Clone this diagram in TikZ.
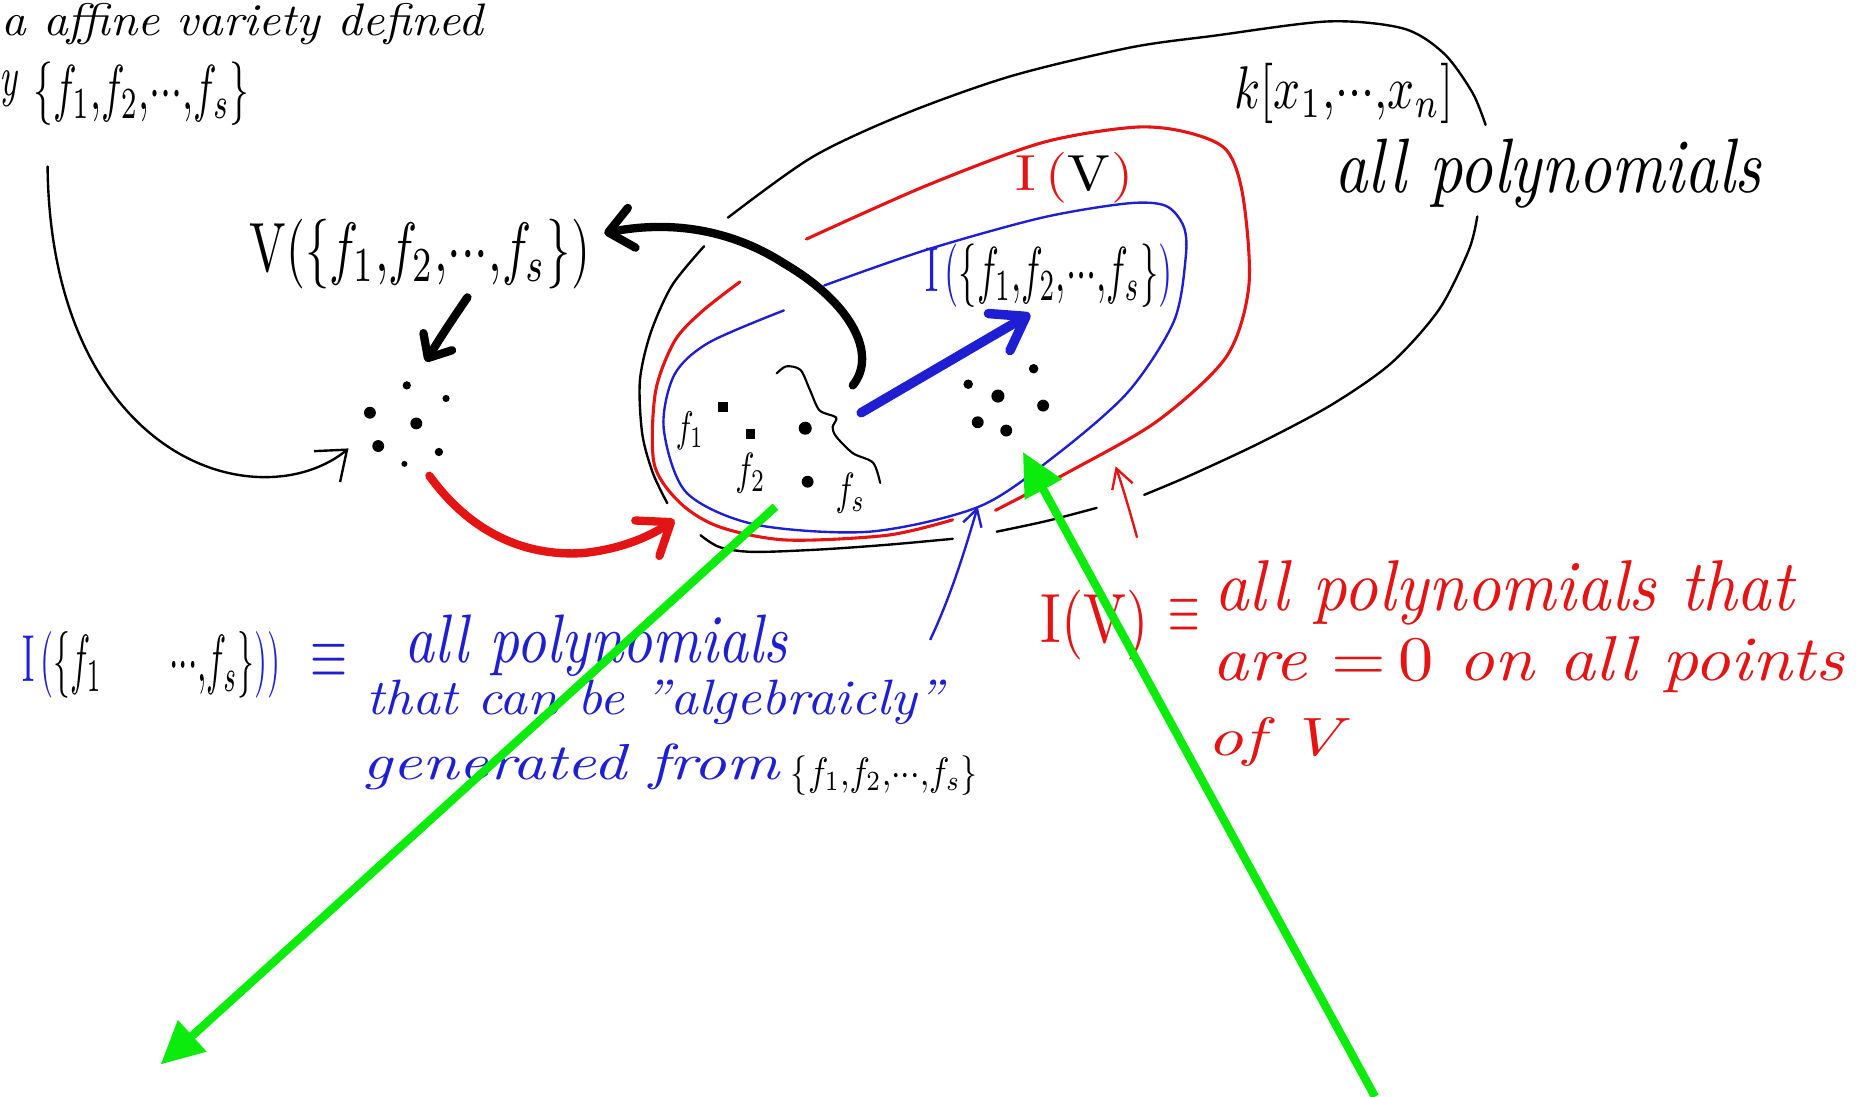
\documentclass[tikz,border=0pt]{standalone}
\usepackage{graphicx}
\usetikzlibrary{arrows.meta}
\definecolor{hred}{RGB}{228,20,20}
\definecolor{hblue}{RGB}{30,30,210}
\definecolor{hgreen}{RGB}{12,236,12}
\newcommand{\fitt}[3]{\resizebox{#1pt}{#2pt}{#3}}
\newcommand{\ddd}{{\cdot}{\cdot}{\cdot}}
\newcommand{\fset}{\{f_1,\!f_2,\!\ddd,\!f_s\}}
\begin{document}
\begin{tikzpicture}[x=1pt,y=-1pt,
 txt/.style={anchor=base west,inner sep=0pt,outer sep=0pt},
 ctxt/.style={inner sep=0pt,outer sep=0pt},
 thinblk/.style={line width=2pt,black,line cap=round,line join=round},
 redline/.style={line width=2.6pt,hred,line cap=round,line join=round},
 blueline/.style={line width=2pt,hblue,line cap=round,line join=round},
 fatblk/.style={line width=7pt,black,line cap=round},
 fatred/.style={line width=7pt,hred,line cap=round},
 fatblue/.style={line width=8pt,hblue,line cap=round},
 grn/.style={line width=7pt,hgreen}]
\useasboundingbox (0,0) rectangle (1568,922);
\fill[white] (0,0) rectangle (1568,922);

% ---------- outer black ellipse (k[x1..xn]) ----------
\draw[thinblk] plot[smooth] coordinates {(612,183) (683,132) (760,96) (850,64) (950,40) (1021,30) (1117,18) (1180,24) (1214,45) (1238,78) (1249,105)};
\draw[thinblk] plot[smooth] coordinates {(1242,182) (1235,210) (1210,260) (1170,305) (1120,340) (1060,372) (1000,400) (962,416)};
\draw[thinblk] plot[smooth] coordinates {(838,447) (880,438) (922,427)};
\draw[thinblk] plot[smooth] coordinates {(589,450) (605,460) (633,464) (689,462) (746,458) (801,453)};
\draw[thinblk] plot[smooth] coordinates {(592,207) (565,240) (547,280) (538,320) (540,365) (549,398) (561,423)};

% ---------- red curve I(V) ----------
\draw[redline] plot[smooth] coordinates {(678,201) (779,156) (876,120) (953,107) (997,111) (1031,126) (1045,165) (1050,240) (1031,300) (973,354) (900,396) (837,429)};
\draw[redline] plot[smooth] coordinates {(622,237) (590,262) (567,287) (551,330) (550,390) (572,423) (605,443) (661,454) (746,450) (801,437)};

% ---------- blue curve I({f}) ----------
\draw[blueline] plot[smooth] coordinates {(693,240) (779,210) (876,183) (948,171) (980,173) (995,190) (997,215) (987,270) (948,330) (886,384) (823,426) (731,447) (635,441) (577,414) (558,360) (567,315) (596,288) (659,261)};

% ---------- texts ----------
\node[txt] (t1) at (1,30) {\fitt{405}{27}{\itshape a affine variety defined}};
\node[anchor=base east,inner sep=0pt] (t2a) at (15,80) {\fitt{15}{21}{\itshape y}};
\node[txt] (t2) at (28,92) {\fitt{182}{40}{$\fset$}};
\node[txt] (vtext) at (210,228) {\fitt{286}{44}{$\mathrm{V}(\fset)$}};
\node[txt] (ktext) at (1038,91) {\fitt{184}{38}{$k[x_1,\!\ddd,\!x_n]$}};
\node[txt] (allpoly) at (1122,162) {\fitt{359}{45}{\itshape all polynomials}};
\node[txt] (ivtop) at (854,160) {\fitt{99}{32}{{\color{hred}$\mathrm{I}\,($}$\mathrm{V}${\color{hred}$)$}}};
\node[txt] (iftext) at (778,245) {\fitt{208}{40}{{\color{hblue}$\mathrm{I}\,($}$\fset${\color{hblue}$)$}}};

\node[ctxt] (lf1) at (580,362) {\scalebox{2.5}[3.6]{$f_1$}};
\node[ctxt] (lf2) at (631,398) {\scalebox{2.7}[3.8]{$f_2$}};
\node[ctxt] (lfs) at (715,415) {\scalebox{2.7}[3.8]{$f_s$}};

% blue explanation
\node[txt] (bform) at (19,573) {\fitt{217}{42}{{\color{hblue}$\mathrm{I}\,($}$\{f_1\qquad\ddd,\!f_s\}${\color{hblue}$))$}}};
\node[ctxt,text=hblue] (beq) at (277,556) {\scalebox{4.0}[6.0]{$\equiv$}};
\node[txt,text=hblue] (b1) at (340,557) {\fitt{322}{40}{\itshape all polynomials}};
\node[txt,text=hblue] (b2) at (308,601) {\fitt{485}{29}{\itshape that can be "algebraicly"}};
\node[txt,text=hblue] (b3) at (305,655) {\fitt{350}{30}{\itshape generated from}};
\node[txt] (b4) at (665,660) {\fitt{157}{25}{$\fset$}};

% red explanation
\node[txt,text=hred] (rform) at (875,540) {\fitt{91}{44}{$\mathrm{I}(\mathrm{V})$}};
\node[ctxt,text=hred] (req) at (996,518) {\scalebox{3.4}[6.0]{$\equiv$}};
\node[txt,text=hred] (r1) at (1021,513) {\fitt{487}{42}{\itshape all polynomials that}};
\node[txt,text=hred] (r2) at (1019,572) {\fitt{531}{37}{\itshape are {\upshape =\,0} on all points}};
\node[txt,text=hred] (r3) at (1015,635) {\fitt{113}{32}{\itshape of V}};

% ---------- dots ----------
\foreach \x/\y/\r in {342/324/3.5, 375/335/3, 311/347/5, 350/356/5, 318/375/5, 369/380/3.5, 340/390/2.5,
                      677/360/5.5, 679/405/5,
                      869/310/4, 814/323/4, 839/333/5.5, 877/341/5, 822/355/5, 846/362/5}
  \fill (\x,\y) circle (\r);
\fill (604,338) rectangle (612,346);
\fill (627,361) rectangle (635,369);

% brace-like wavy line
\draw[line width=1.8pt,line cap=round] plot[smooth] coordinates {(653,314) (661,308) (673,311) (681,328) (689,345) (703,351) (700,359) (703,367) (717,381) (734,389) (740,406)};

% ---------- connectors ----------
\coordinate (c1s) at (40,140);
\coordinate (c1e) at (293,377);
\draw[thinblk,-{Straight Barb[length=22pt,width=34pt]}] (c1s) .. controls (42,330) and (150,412) .. (240,400) .. controls (262,397) and (280,388) .. (c1e);

\coordinate (vds) at (393,250);
\coordinate (vde) at (358,304);
\draw[fatblk,-{Straight Barb[length=16pt,width=28pt,round]}] (vds) .. controls (382,266) and (370,284) .. (vde);

\coordinate (rs) at (361,400);
\coordinate (re) at (567,437);
\draw[fatred,-{Straight Barb[length=24pt,width=36pt,round]}] (rs) .. controls (395,447) and (440,468) .. (490,465) .. controls (520,462) and (545,452) .. (re);

\coordinate (hks) at (717,324);
\coordinate (hke) at (508,196);
\draw[fatblk,-{Straight Barb[length=20pt,width=34pt,round]}] (hks) .. controls (738,298) and (716,255) .. (660,222) .. controls (620,196) and (570,184) .. (hke);

\coordinate (bls) at (724,347);
\coordinate (ble) at (866,264);
\draw[fatblue,-{Straight Barb[length=26pt,width=36pt,round]}] (bls) -- (ble);

\coordinate (sbs) at (782,538);
\coordinate (sbe) at (822,426);
\draw[line width=2pt,hblue,-{Straight Barb[length=14pt,width=16pt]}] (sbs) .. controls (800,500) and (812,460) .. (sbe);

\coordinate (srs) at (956,452);
\coordinate (sre) at (938,392);
\draw[line width=2pt,hred,-{Straight Barb[length=16pt,width=18pt]}] (srs) .. controls (950,430) and (944,410) .. (sre);

\coordinate (g1s) at (652,426);
\coordinate (g1e) at (135,895);
\draw[grn,-{Triangle[length=36pt,width=34pt]}] (g1s) -- (g1e);
\coordinate (g2s) at (1156,922);
\coordinate (g2e) at (860,380);
\draw[grn,-{Triangle[length=36pt,width=34pt]}] (g2s) -- (g2e);
\end{tikzpicture}
\end{document}
